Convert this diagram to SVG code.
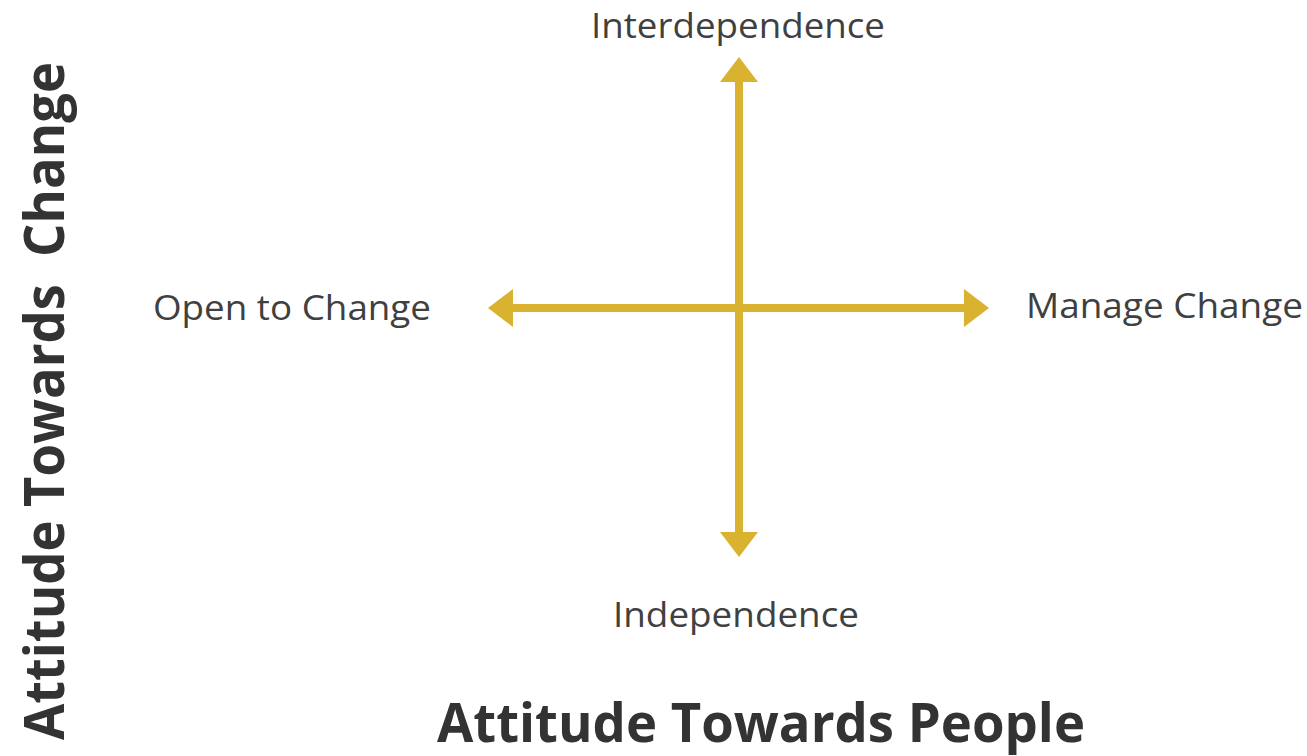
<svg xmlns="http://www.w3.org/2000/svg" width="1307" height="756" viewBox="0 0 1307 756">
<style>
.lbl{font-family:"Open Sans","Noto Sans","DejaVu Sans",sans-serif;font-size:35px;fill:#404040}
.ttl{font-family:"Open Sans","Noto Sans","DejaVu Sans",sans-serif;font-size:56px;font-weight:bold;fill:#333333}
.ax{stroke:#D9B22F;stroke-width:8;fill:none}
.hd{fill:#D9B22F}
</style>
<rect width="1307" height="756" fill="#ffffff"/>
<g id="connectors">
<line class="ax" x1="739" y1="80" x2="739" y2="534"/>
<line class="ax" x1="511" y1="308" x2="966" y2="308"/>
<polygon class="hd" points="739,57 758,82 720,82"/>
<polygon class="hd" points="739,557 758,532 720,532"/>
<polygon class="hd" points="488,308 513,289 513,327"/>
<polygon class="hd" points="989,308 964,289 964,327"/>
</g>
<g id="interdependence"><text class="lbl" x="738" y="38" text-anchor="middle" textLength="294" lengthAdjust="spacingAndGlyphs">Interdependence</text></g>
<g id="independence"><text class="lbl" x="736" y="627" text-anchor="middle" textLength="246" lengthAdjust="spacingAndGlyphs">Independence</text></g>
<g id="open-to-change"><text class="lbl" x="153" y="320" textLength="278" lengthAdjust="spacingAndGlyphs">Open to Change</text></g>
<g id="manage-change"><text class="lbl" x="1026" y="318" textLength="277" lengthAdjust="spacingAndGlyphs">Manage Change</text></g>
<g id="x-title"><text class="ttl" x="437" y="742" style="font-size:53px" textLength="648" lengthAdjust="spacingAndGlyphs">Attitude Towards People</text></g>
<g id="y-title"><text class="ttl" transform="translate(64,740) rotate(-90)" x="0" y="0" textLength="678" lengthAdjust="spacingAndGlyphs" xml:space="preserve">Attitude Towards  Change</text></g>
</svg>
